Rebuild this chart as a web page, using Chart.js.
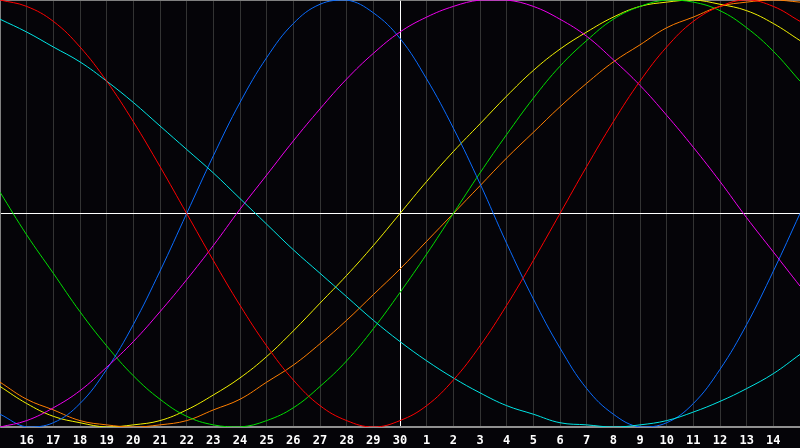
<!DOCTYPE html>
<html>
<head>
<meta charset="utf-8">
<title>Biorhythm</title>
<script src="https://cdn.jsdelivr.net/npm/chart.js@4/dist/chart.umd.min.js"></script>
<style>
  html, body { margin: 0; padding: 0; background: #050408; }
  canvas { display: block; }
</style>
</head>
<body>
<canvas id="bioCanvas" width="800" height="448"></canvas>
<script>
// day labels, index 0 and 30 are the edges (no label shown)
const days = ["15", "16", "17", "18", "19", "20", "21", "22", "23", "24", "25", "26", "27", "28", "29", "30",
  "1", "2", "3", "4", "5", "6", "7", "8", "9", "10", "11", "12", "13", "14", "15"];
const todayIndex = 15;

// values in percent
const red = [100, 97, 90, 78, 62, 43, 22, 0, -22, -43, -62, -78, -90, -97, -100, -97,
  -90, -78, -62, -43, -22, 0, 22, 43, 62, 78, 90, 97, 100, 97, 90];
const blue = [-94, -100, -98, -89, -73, -52, -27, 0, 27, 52, 73, 89, 98, 100, 94, 82,
  63, 40, 14, -14, -40, -63, -82, -94, -100, -98, -89, -73, -52, -27, 0];
const green = [10, -10, -28, -46, -62, -76, -87, -95, -99, -100, -97, -91, -81, -69, -54, -37,
  -19, 0, 19, 37, 54, 69, 81, 91, 97, 100, 99, 95, 87, 76, 62];
const magenta = [-100, -97, -91, -83, -72, -60, -46, -31, -15, 2, 18, 34, 49, 63, 75, 85,
  92, 97, 100, 100, 97, 91, 83, 72, 60, 46, 31, 15, -2, -18, -34];
const yellow = [-81, -89, -95, -98, -100, -99, -97, -92, -85, -77, -67, -55, -42, -29, -15, 0,
  15, 29, 42, 55, 67, 77, 85, 92, 97, 99, 100, 98, 95, 89, 81];
const orange = [-79, -87, -92, -97, -99, -100, -99, -97, -92, -87, -79, -71, -61, -50, -38, -26,
  -13, 0, 13, 26, 38, 50, 61, 71, 79, 87, 92, 97, 99, 100, 99];
const cyan = [91, 85, 78, 71, 62, 52, 41, 30, 19, 7, -5, -17, -28, -39, -50, -60,
  -69, -77, -84, -90, -94, -98, -99, -100, -99, -97, -93, -88, -82, -75, -66];

function line(data, color) {
  return {
    data: data,
    borderColor: color,
    borderWidth: 1,
    pointRadius: 0,
    tension: 0.4,
    fill: false
  };
}

const ctx = document.getElementById("bioCanvas").getContext("2d");
new Chart(ctx, {
  type: "line",
  data: {
    labels: days,
    datasets: [
      line(red, "#ff0000"),
      line(cyan, "#00e6e6"),
      line(magenta, "#f000f0"),
      line(blue, "#0a6cff"),
      line(green, "#00e000"),
      line(orange, "#ff7f00"),
      line(yellow, "#f2f200")
    ]
  },
  options: {
    responsive: false,
    animation: false,
    layout: { padding: 0 },
    plugins: {
      legend: { display: false },
      tooltip: { enabled: false }
    },
    scales: {
      x: {
        offset: false,
        afterFit: (s) => {
          s.paddingLeft = 0;
          s.paddingRight = 0;
          s.height = 21;
        },
        grid: {
          drawTicks: false,
          color: (c) => {
            if (c.index === todayIndex) return "#ffffff";
            if (c.index === 0) return "#808080";
            if (c.index === days.length - 1) return "rgba(0,0,0,0)";
            return "#333333";
          },
          lineWidth: 1
        },
        border: { color: "#909090", width: 2 },
        ticks: {
          color: "#ffffff",
          padding: 6,
          maxRotation: 0,
          autoSkip: false,
          font: { family: "DejaVu Sans Mono", size: 12, weight: "bold", lineHeight: 1.25 },
          callback: function (value, index) {
            if (index === 0 || index === days.length - 1) return "";
            return days[index];
          }
        }
      },
      y: {
        min: -100,
        max: 100,
        afterFit: (s) => {
          s.width = 0;
        },
        ticks: { display: false, stepSize: 100 },
        grid: {
          drawTicks: false,
          color: (c) => (c.tick.value === 0 ? "#ffffff" : c.tick.value === 100 ? "#808080" : "rgba(0,0,0,0)"),
          lineWidth: 1
        },
        border: { color: "#808080", width: 1 }
      }
    }
  }
});
</script>
</body>
</html>
